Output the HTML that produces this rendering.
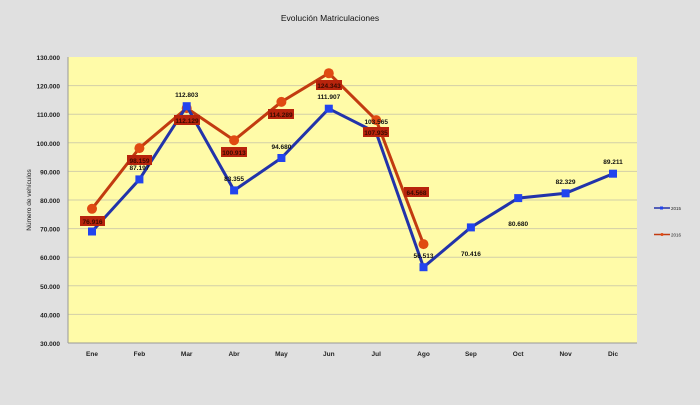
<!DOCTYPE html>
<html><head><meta charset="utf-8"><style>
html,body{margin:0;padding:0;background:#e0e0e0;}
svg{display:block;font-family:"Liberation Sans",sans-serif;}
</style></head><body>
<svg width="700" height="405" viewBox="0 0 700 405" xmlns="http://www.w3.org/2000/svg">
<rect width="700" height="405" fill="#e0e0e0"/>
<text x="330" y="21" font-size="8.5" text-anchor="middle" fill="#111">Evolución  Matriculaciones</text>
<rect x="68" y="57" width="569" height="286" fill="#fffba8"/>
<g stroke="#d2cfa8" stroke-width="1">
<line x1="68" x2="637" y1="85.6" y2="85.6"/><line x1="68" x2="637" y1="114.2" y2="114.2"/>
<line x1="68" x2="637" y1="142.8" y2="142.8"/><line x1="68" x2="637" y1="171.4" y2="171.4"/>
<line x1="68" x2="637" y1="200" y2="200"/><line x1="68" x2="637" y1="228.6" y2="228.6"/>
<line x1="68" x2="637" y1="257.2" y2="257.2"/><line x1="68" x2="637" y1="285.8" y2="285.8"/>
<line x1="68" x2="637" y1="314.4" y2="314.4"/>
</g>
<line x1="68" x2="68" y1="57" y2="343" stroke="#999"/>
<line x1="68" x2="637" y1="343" y2="343" stroke="#999"/>
<g font-size="6.5" fill="#222" text-anchor="end" font-weight="bold">
<text x="60" y="60">130.000</text><text x="60" y="88.6">120.000</text><text x="60" y="117.2">110.000</text>
<text x="60" y="145.8">100.000</text><text x="60" y="174.4">90.000</text><text x="60" y="203">80.000</text>
<text x="60" y="231.6">70.000</text><text x="60" y="260.2">60.000</text><text x="60" y="288.8">50.000</text>
<text x="60" y="317.4">40.000</text><text x="60" y="346">30.000</text>
</g>
<text transform="translate(31,200) rotate(-90)" font-size="6.5" text-anchor="middle" fill="#222">Número de vehículos</text>
<g font-size="6.5" fill="#222" text-anchor="middle" font-weight="bold">
<text x="92" y="356">Ene</text><text x="139.4" y="356">Feb</text><text x="186.7" y="356">Mar</text>
<text x="234.1" y="356">Abr</text><text x="281.4" y="356">May</text><text x="328.8" y="356">Jun</text>
<text x="376.2" y="356">Jul</text><text x="423.5" y="356">Ago</text><text x="470.9" y="356">Sep</text>
<text x="518.2" y="356">Oct</text><text x="565.6" y="356">Nov</text><text x="613" y="356">Dic</text>
</g>
<!-- 2016 red -->
<polyline fill="none" stroke="#c23b10" stroke-width="3" points="92,208.8 139.4,148.1 186.7,108.1 234.1,140.2 281.4,101.9 328.8,73.2 376.2,120.1 423.5,244.1"/>
<g fill="#e04a12">
<circle cx="92" cy="208.8" r="5"/><circle cx="139.4" cy="148.1" r="5"/><circle cx="186.7" cy="108.1" r="5"/>
<circle cx="234.1" cy="140.2" r="5"/><circle cx="281.4" cy="101.9" r="5"/><circle cx="328.8" cy="73.2" r="5"/>
<circle cx="376.2" cy="120.1" r="5"/><circle cx="423.5" cy="244.1" r="5"/>
</g>
<!-- 2015 blue -->
<polyline fill="none" stroke="#2233aa" stroke-width="3" points="92,231.5 139.4,179.4 186.7,106.2 234.1,190.4 281.4,158 328.8,108.7 376.2,132.6 423.5,267.2 470.9,227.4 518.2,198.1 565.6,193.3 613,173.7"/>
<g fill="#2244ee">
<rect x="88" y="227.5" width="8" height="8"/><rect x="135.4" y="175.4" width="8" height="8"/><rect x="182.7" y="102.2" width="8" height="8"/>
<rect x="230.1" y="186.4" width="8" height="8"/><rect x="277.4" y="154" width="8" height="8"/><rect x="324.8" y="104.7" width="8" height="8"/>
<rect x="372.2" y="128.6" width="8" height="8"/><rect x="419.5" y="263.2" width="8" height="8"/><rect x="466.9" y="223.4" width="8" height="8"/>
<rect x="514.2" y="194.1" width="8" height="8"/><rect x="561.6" y="189.3" width="8" height="8"/><rect x="609" y="169.7" width="8" height="8"/>
</g>
<!-- red labels -->
<g fill="#b8240c">
<rect x="80" y="216" width="25" height="10"/><rect x="127" y="155" width="25" height="10"/><rect x="174" y="115" width="26" height="10"/>
<rect x="221" y="147" width="26" height="10"/><rect x="268" y="109" width="26" height="10"/><rect x="316" y="80" width="26" height="10"/>
<rect x="363" y="127" width="26" height="10"/><rect x="404" y="187" width="25" height="10"/>
</g>
<g font-size="6.5" fill="#3a0a00" text-anchor="middle" font-weight="bold">
<text x="92.5" y="224">76.916</text><text x="139.5" y="163">98.159</text><text x="187" y="123">112.129</text>
<text x="234" y="155">100.913</text><text x="281" y="117">114.289</text><text x="329" y="88">124.343</text>
<text x="376" y="135">107.935</text><text x="416.5" y="195">64.568</text>
</g>
<!-- blue labels -->
<g font-size="6.5" fill="#111" text-anchor="middle" font-weight="bold">
<text x="139.4" y="170">87.197</text><text x="186.7" y="97">112.803</text><text x="234.1" y="181">83.355</text>
<text x="281.4" y="149">94.680</text><text x="328.8" y="99">111.907</text><text x="376.2" y="124">103.565</text>
<text x="423.5" y="258">56.513</text><text x="470.9" y="256">70.416</text><text x="518.2" y="226">80.680</text>
<text x="565.6" y="184">82.329</text><text x="613" y="164">89.211</text>
</g>
<!-- legend -->
<line x1="654" x2="670" y1="208" y2="208" stroke="#2233aa" stroke-width="1.5"/><rect x="660" y="206.5" width="3" height="3" fill="#2244ee"/>
<text x="671" y="210" font-size="4.5" fill="#222">2015</text>
<line x1="654" x2="670" y1="234.5" y2="234.5" stroke="#c23b10" stroke-width="1.5"/><circle cx="662" cy="234.5" r="1.5" fill="#e04a12"/>
<text x="671" y="236.5" font-size="4.5" fill="#222">2016</text>
</svg>
</body></html>
